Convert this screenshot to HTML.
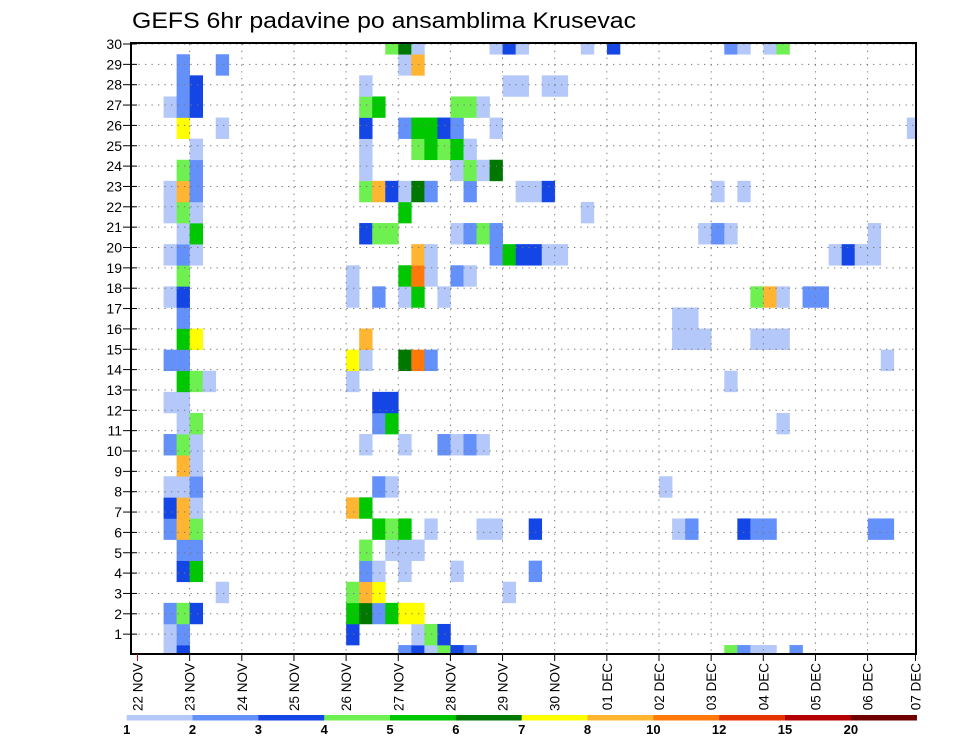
<!DOCTYPE html>
<html>
<head>
<meta charset="utf-8">
<style>
  html,body{margin:0;padding:0;background:#fff;}
  svg{display:block;}
  text{font-family:"Liberation Sans",sans-serif;fill:#000;}
</style>
</head>
<body>
<svg id="chart" width="960" height="742" viewBox="0 0 960 742">
  <defs>
    <clipPath id="plotClip"><rect x="131" y="43" width="785" height="611"/></clipPath>
  </defs>
  <rect x="0" y="0" width="960" height="742" fill="#fff"/>
  <text x="132" y="28" font-size="22" textLength="504" lengthAdjust="spacingAndGlyphs">GEFS 6hr padavine po ansamblima Krusevac</text>
  <g id="cells" clip-path="url(#plotClip)"></g>
  <g id="grid"></g>
  <rect x="131" y="43" width="785" height="611" fill="none" stroke="#000" stroke-width="2"/>
  <g id="yaxis"></g>
  <g id="xaxis"></g>
  <g id="legend"></g>
</svg>
<script>
// ---- data: per ensemble member (row 0 = bottom), 6-hourly step index and precipitation (mm) ----
const memberSteps = [
  [2,3,20,21,22,23,24,25,45,46,47,48,50],
  [2,3,16,21,22,23],
  [2,3,4,16,17,18,19,20,21],
  [6,16,17,18,28],
  [3,4,17,18,20,24,30],
  [3,4,17,19,20,21],
  [2,3,4,18,19,20,22,26,27,30,41,42,46,47,48,56,57],
  [2,3,4,16,17],
  [2,3,4,18,19,40],
  [3,4],
  [2,3,4,17,20,23,24,25,26],
  [3,4,18,19,49],
  [2,3,18,19],
  [3,4,5,16,45],
  [2,3,16,17,20,21,22,57],
  [3,4,17,41,42,43,47,48,49],
  [3,41,42],
  [2,3,16,18,20,21,23,47,48,49,51,52],
  [3,16,20,21,22,24,25],
  [2,3,4,21,22,27,28,29,30,31,32,53,54,55,56],
  [3,4,17,18,19,24,25,26,27,43,44,45,56],
  [2,3,4,20,34],
  [2,3,4,17,18,19,20,21,22,25,29,30,31,44,46],
  [3,4,17,24,25,26,27],
  [4,17,21,22,23,24,25],
  [3,6,17,20,21,22,23,24,27,59],
  [2,3,4,17,18,24,25,26],
  [3,4,17,28,29,31,32],
  [3,6,20,21],
  [19,20,21,27,28,29,34,36,45,46,48,49]
];
const memberPrecip = [
  [1.5,3.5,2.5,3.5,1.5,4.5,3.5,2.5,4.5,2.5,1.5,1.5,2.5],
  [1.5,2.5,3.5,1.5,4.5,3.5],
  [2.5,4.5,3.5,5.5,6.5,2.5,5.5,7.5,7.5],
  [1.5,4.5,9,7.5,1.5],
  [3.5,5.5,2.5,1.5,1.5,1.5,2.5],
  [2.5,2.5,4.5,1.5,1.5,1.5],
  [2.5,9,4.5,5.5,4.5,5.5,1.5,1.5,1.5,3.5,1.5,2.5,3.5,2.5,2.5,2.5,2.5],
  [3.5,9,1.5,9,5.5],
  [1.5,1.5,2.5,2.5,1.5,1.5],
  [9,1.5],
  [2.5,4.5,1.5,1.5,1.5,2.5,1.5,2.5,1.5],
  [1.5,4.5,2.5,5.5,1.5],
  [1.5,1.5,3.5,3.5],
  [5.5,4.5,1.5,1.5,1.5],
  [2.5,2.5,7.5,1.5,6.5,11,2.5,1.5],
  [5.5,7.5,9,1.5,1.5,1.5,1.5,1.5,1.5],
  [2.5,1.5,1.5],
  [1.5,3.5,1.5,2.5,1.5,5.5,1.5,4.5,9,1.5,2.5,2.5],
  [4.5,1.5,5.5,11,1.5,2.5,1.5],
  [1.5,2.5,1.5,9,1.5,2.5,5.5,3.5,3.5,1.5,1.5,1.5,3.5,1.5,1.5],
  [1.5,5.5,3.5,4.5,4.5,1.5,2.5,4.5,2.5,1.5,2.5,1.5,1.5],
  [1.5,4.5,1.5,5.5,1.5],
  [1.5,9,2.5,4.5,9,3.5,1.5,6.5,2.5,2.5,1.5,1.5,3.5,1.5,1.5],
  [4.5,2.5,1.5,1.5,4.5,1.5,6.5],
  [1.5,1.5,4.5,5.5,4.5,5.5,1.5],
  [7.5,1.5,3.5,2.5,5.5,5.5,3.5,2.5,1.5,1.5],
  [1.5,2.5,3.5,4.5,5.5,4.5,4.5,1.5],
  [2.5,3.5,1.5,1.5,1.5,1.5,1.5],
  [2.5,2.5,1.5,9],
  [4.5,6.5,1.5,1.5,3.5,1.5,1.5,3.5,2.5,1.5,1.5,4.5]
];
const dayLabels = ["22 NOV","23 NOV","24 NOV","25 NOV","26 NOV","27 NOV","28 NOV","29 NOV","30 NOV","01 DEC","02 DEC","03 DEC","04 DEC","05 DEC","06 DEC","07 DEC"];
const yTickLabels = [1,2,3,4,5,6,7,8,9,10,11,12,13,14,15,16,17,18,19,20,21,22,23,24,25,26,27,28,29,30];
const levels = [1,2,3,4,5,6,7,8,10,12,15,20];
const levelColors = ["#b4c8fa","#6490fa","#1446e6","#6ef050","#00c800","#007800","#ffff00","#ffb432","#ff780a","#e63200","#b40000","#6e0000"];

// ---- scales ----
const NS = "http://www.w3.org/2000/svg";
const X0 = 137.5, STEP_W = 13.04, DAY_W = 52.15;
const xStep = s => X0 + STEP_W * s;
const xDay = d => Math.min(X0 + DAY_W * d, 915.5);
const ROW_H = 21.1;
const yMemberTop = m => 645.05 - ROW_H * m;
const yTick = r => 654.5 - 20.35 * r;
function colorFor(v){
  let idx = -1;
  for (let i = 0; i < levels.length; i++) if (v >= levels[i]) idx = i;
  return idx < 0 ? null : levelColors[idx];
}
function mk(tag, attrs, parent){
  const el = document.createElementNS(NS, tag);
  for (const k in attrs) el.setAttribute(k, attrs[k]);
  parent.appendChild(el);
  return el;
}

// ---- cells ----
const cellsG = document.getElementById("cells");
memberSteps.forEach((steps, m) => {
  steps.forEach((s, i) => {
    const c = colorFor(memberPrecip[m][i]);
    if (!c) return;
    const r = mk("rect", {x: xStep(s), y: yMemberTop(m), width: STEP_W + 0.3, height: ROW_H + 0.3, fill: c}, cellsG);
    
    
  });
});

// ---- grid ----
const gridG = document.getElementById("grid");
yTickLabels.forEach(r => {
  const y = yTick(r);
  const l = mk("line", {x1: 132, x2: 915, y1: y, y2: y, stroke: "#777", "stroke-width": 1, "stroke-dasharray": "1.3 5.2"}, gridG);
  
  
});
for (let d = 1; d < 15; d++) {
  const x = xDay(d);
  const l = mk("line", {x1: x, x2: x, y1: 44, y2: 653, stroke: "#777", "stroke-width": 1, "stroke-dasharray": "1.3 5.5"}, gridG);
  
  
}

// ---- y axis ----
const yG = document.getElementById("yaxis");
yTickLabels.forEach(r => {
  const y = yTick(r);
  const t = mk("line", {x1: 123, x2: 137, y1: y, y2: y, stroke: "#000", "stroke-width": 1}, yG);
  
  
  const tx = mk("text", {x: 122, y: y + 5, "font-size": 14, "text-anchor": "end"}, yG);
  tx.textContent = r;
  
  
});

// ---- x axis ----
const xG = document.getElementById("xaxis");
dayLabels.forEach((lab, d) => {
  const x = xDay(d);
  const t = mk("line", {x1: x, x2: x, y1: 654, y2: 661, stroke: d === 0 ? "#c00" : "#000", "stroke-width": 1}, xG);
  
  
  const tx = mk("text", {x: 0, y: 0, "font-size": 13.5, "text-anchor": "end", transform: `translate(${x + 5},663) rotate(-90)`}, xG);
  tx.textContent = lab;
  
  
});

// ---- legend / colorbar ----
const lg = document.getElementById("legend");
const LX = 126.7, LW = 65.83;
levelColors.forEach((c, i) => {
  const r = mk("rect", {x: LX + LW * i, y: 715, width: LW + 0.3, height: 5.5, fill: c}, lg);
  
  
});
levels.forEach((v, i) => {
  const tx = mk("text", {x: LX + LW * i, y: 734, "font-size": 13, "font-weight": "bold", "text-anchor": "middle"}, lg);
  tx.textContent = v;
  
  
});
</script>
</body>
</html>
